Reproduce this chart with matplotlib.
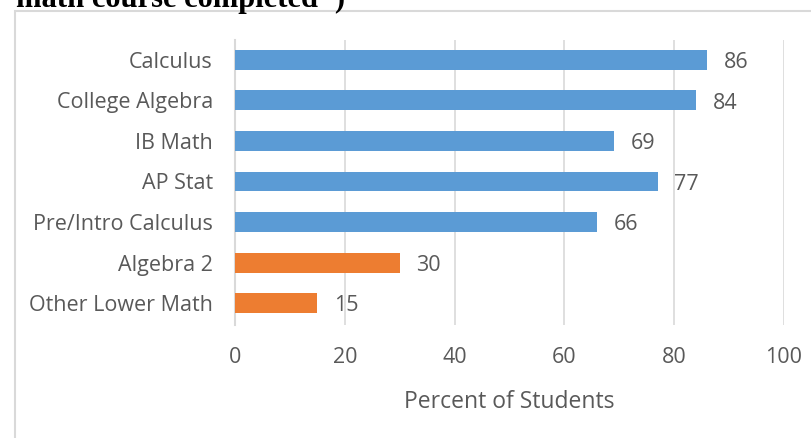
import matplotlib.pyplot as plt
from matplotlib.patches import Rectangle

# data, top to bottom
courses = ["Calculus", "College Algebra", "IB Math", "AP Stat",
           "Pre/Intro Calculus", "Algebra 2", "Other Lower Math"]
percents = [86, 84, 69, 77, 66, 30, 15]
bar_colors = ["#5B9BD5"] * 5 + ["#ED7D31"] * 2
x_ticks = [0, 20, 40, 60, 80, 100]

text_color = "#595959"
plt.rcParams['font.family'] = ['Open Sans', 'DejaVu Sans']

fig = plt.figure(figsize=(8.12, 4.38), dpi=100)
W, H = 812, 438

# chart frame (extends past the right and bottom edges)
fig.patches.append(Rectangle((15 / W, -0.1), 1.2, (438 - 11) / H + 0.1,
                             transform=fig.transFigure, fill=False,
                             edgecolor="#D9D9D9", linewidth=1.5))

# cut-off caption line from the document above the chart
fig.text(16 / W, 1 - 7 / H, 'math course completed")', fontsize=22,
         fontweight="bold", family="Liberation Serif", color="black",
         ha="left", va="baseline")

ax = fig.add_axes([235 / W, (438 - 325) / H, (784 - 235) / W, (325 - 40) / H])

ypos = list(range(len(courses)))
ax.barh(ypos, percents, height=0.49, color=bar_colors, zorder=3)
for y, v in zip(ypos, percents):
    ax.text(v + 3, y + 0.07, str(v), va="center", ha="left", fontsize=15.5,
            color=text_color)

ax.set_xlim(0, 100)
ax.set_ylim(6.54, -0.49)
ax.set_xticks(x_ticks)
ax.set_yticks(ypos)
ax.set_yticklabels(courses)
ax.grid(axis="x", color="#D9D9D9", linewidth=1.2, zorder=0)
ax.tick_params(axis="both", length=0, labelsize=15.5, labelcolor=text_color)
ax.tick_params(axis="y", pad=16)
ax.tick_params(axis="x", pad=16)
for s in ["top", "right", "bottom"]:
    ax.spines[s].set_visible(False)
ax.spines["left"].set_color("#D9D9D9")
ax.spines["left"].set_linewidth(1.5)
ax.set_xlabel("Percent of Students", fontsize=16.5, color=text_color, labelpad=16)

fig.savefig("out.png", dpi=100)
